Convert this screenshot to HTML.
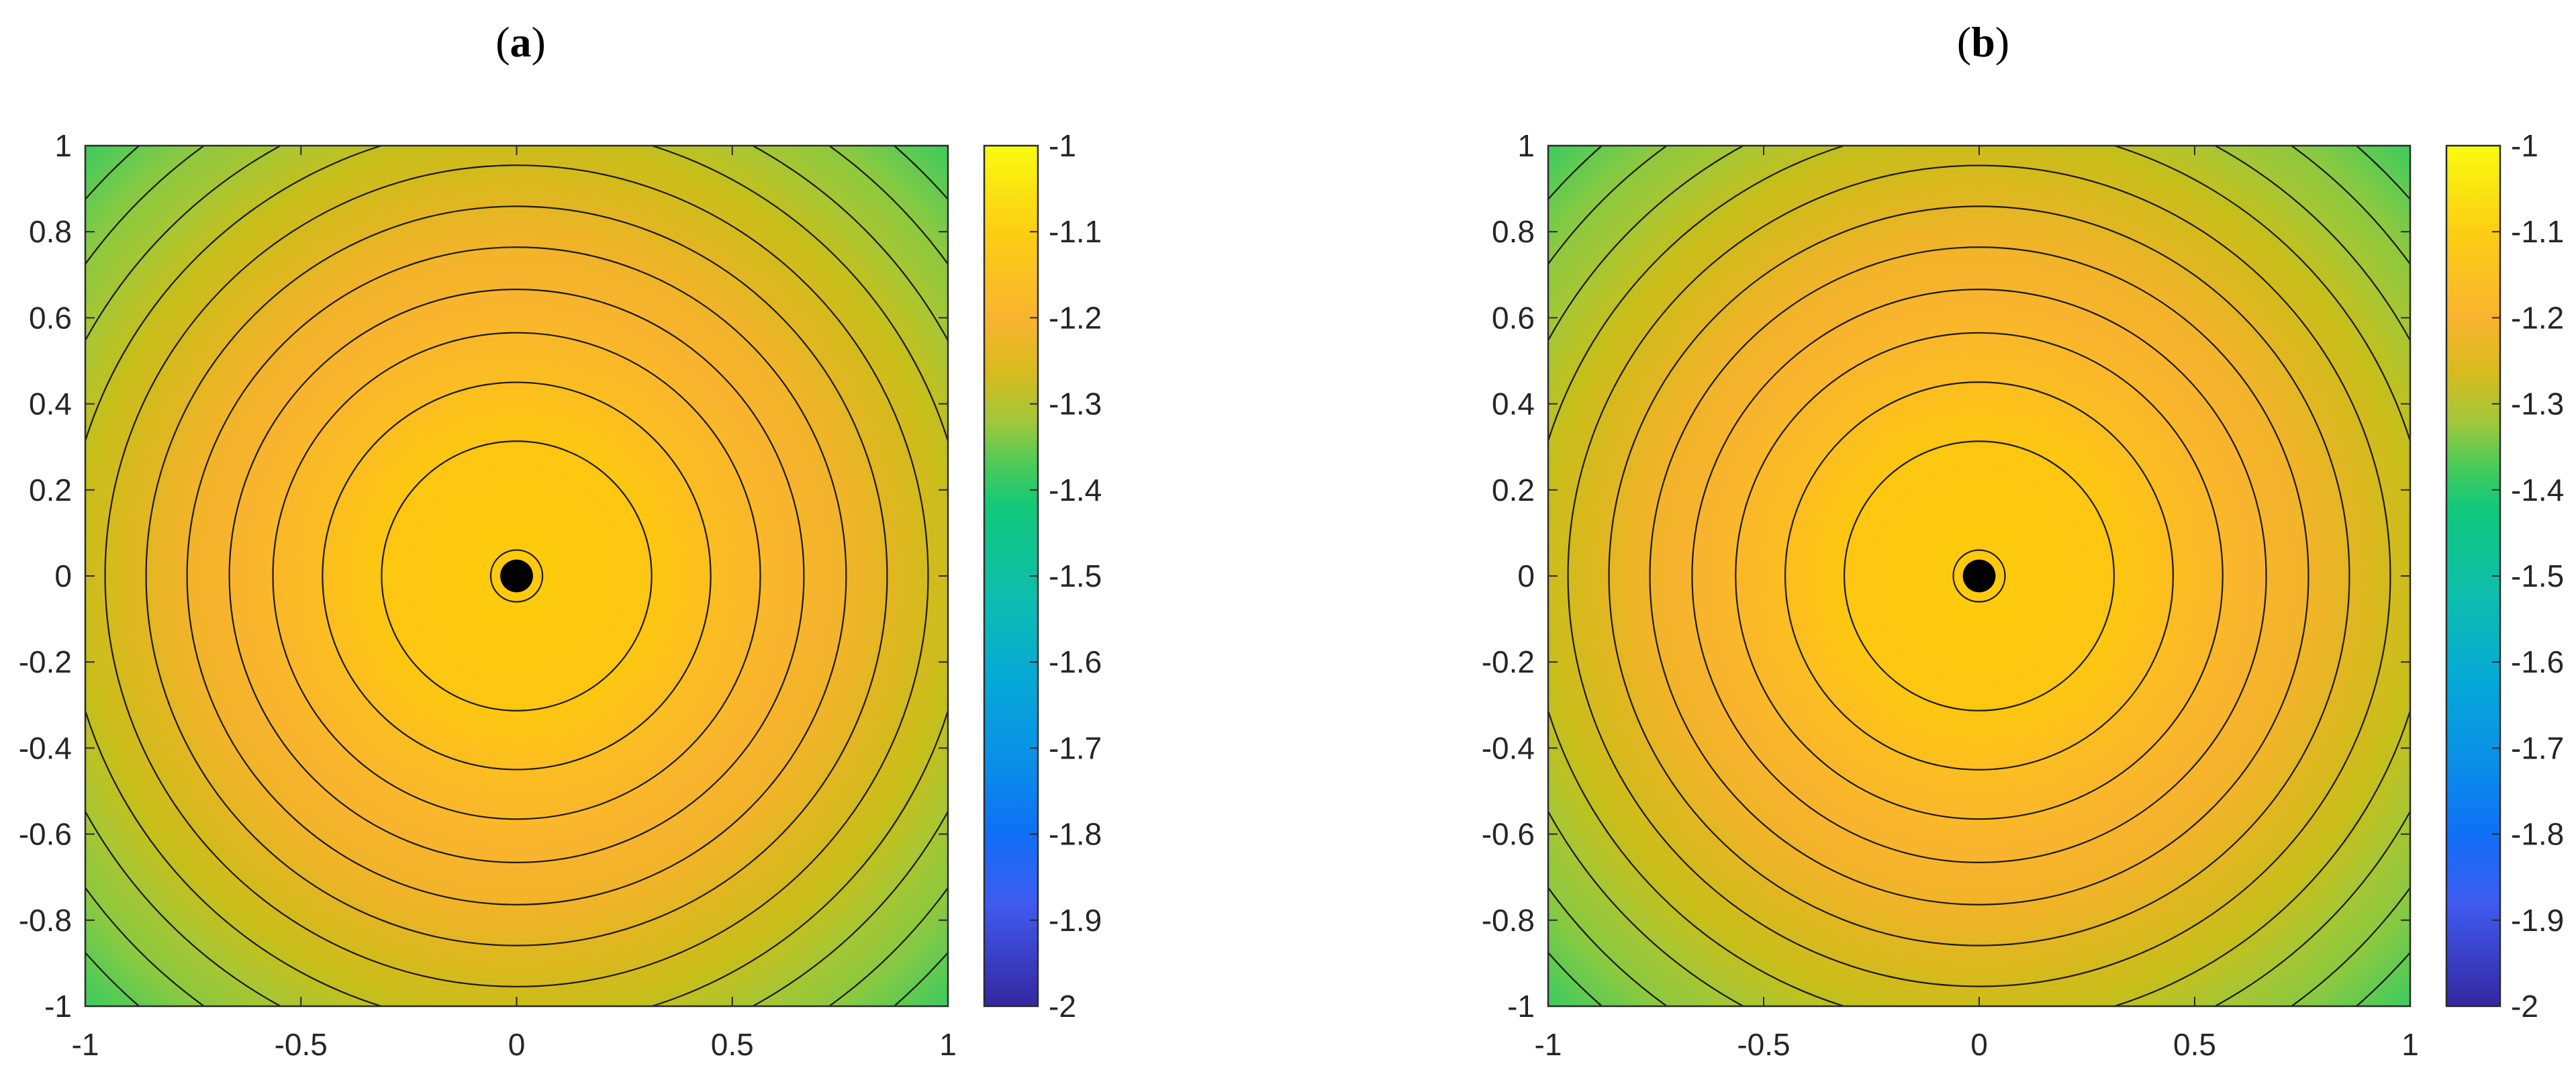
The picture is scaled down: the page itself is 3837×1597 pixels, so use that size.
<!DOCTYPE html>
<html><head><meta charset="utf-8"><style>
html,body{margin:0;padding:0;background:#fff;width:3837px;height:1597px;overflow:hidden;}
svg{display:block;}
text{font-family:"Liberation Sans",Arial,sans-serif;fill:#262626;}
.title{font-family:"Liberation Serif",serif;font-size:64px;fill:#000;}
</style></head><body>
<svg id="fig" width="3837" height="1597" viewBox="0 0 3837 1597" xmlns="http://www.w3.org/2000/svg">
<defs>
<radialGradient id="rg" gradientUnits="objectBoundingBox" cx="0.5" cy="0.5" r="0.7071">
<stop offset="0" stop-color="#fecb0c"/>
<stop offset="0.24" stop-color="#fdc613"/>
<stop offset="0.34" stop-color="#fbbc24"/>
<stop offset="0.45" stop-color="#f9b42e"/>
<stop offset="0.56" stop-color="#efb428"/>
<stop offset="0.64" stop-color="#dbb81e"/>
<stop offset="0.72" stop-color="#c8be1a"/>
<stop offset="0.80" stop-color="#a9c632"/>
<stop offset="0.88" stop-color="#8bc940"/>
<stop offset="0.95" stop-color="#5ccb53"/>
<stop offset="1" stop-color="#3dcb5e"/>
</radialGradient>
<linearGradient id="cbg" x1="0" y1="0" x2="0" y2="1">
<stop offset="0" stop-color="#f9fb0e"/>
<stop offset="0.1" stop-color="#fcce13"/>
<stop offset="0.2" stop-color="#f9b42f"/>
<stop offset="0.26" stop-color="#d9ba1e"/>
<stop offset="0.32" stop-color="#a3c739"/>
<stop offset="0.37" stop-color="#4ccb58"/>
<stop offset="0.42" stop-color="#12c87a"/>
<stop offset="0.52" stop-color="#0ebeac"/>
<stop offset="0.62" stop-color="#06a9d6"/>
<stop offset="0.72" stop-color="#0a8ee8"/>
<stop offset="0.8" stop-color="#0f6ff7"/>
<stop offset="0.88" stop-color="#3f5bf0"/>
<stop offset="1" stop-color="#3527a0"/>
</linearGradient>
</defs>
</svg>
<script>
const contourRadii = [0.313, 0.450, 0.565, 0.666, 0.764, 0.859, 0.954, 1.048, 1.140, 1.235, 1.329];
const innerRadius = 0.06;
const dotRadius = 0.038;
const xTicks = [-1, -0.5, 0, 0.5, 1];
const xTickLabels = ["-1", "-0.5", "0", "0.5", "1"];
const yTicks = [-1, -0.8, -0.6, -0.4, -0.2, 0, 0.2, 0.4, 0.6, 0.8, 1];
const yTickLabels = ["-1", "-0.8", "-0.6", "-0.4", "-0.2", "0", "0.2", "0.4", "0.6", "0.8", "1"];
const cbTicks = [-1, -1.1, -1.2, -1.3, -1.4, -1.5, -1.6, -1.7, -1.8, -1.9, -2];
const cbTickLabels = ["-1", "-1.1", "-1.2", "-1.3", "-1.4", "-1.5", "-1.6", "-1.7", "-1.8", "-1.9", "-2"];
const panelTitles = ["a", "b"];

const NS = "http://www.w3.org/2000/svg";
const svg = document.getElementById("fig");
function mk(tag, attrs, parent){
  const e = document.createElementNS(NS, tag);
  for (const k in attrs) e.setAttribute(k, attrs[k]);
  (parent||svg).appendChild(e);
  return e;
}
const panels = [{L:127,R:1412,T:217,B:1499,cbL:1466,cbR:1546},{L:2306,R:3590,T:217,B:1499,cbL:3644,cbR:3724}];
panels.forEach((p, i) => {
  const g = mk("g", {});
  
  
  const sx = v => p.L + (v + 1) / 2 * (p.R - p.L);
  const sy = v => p.B - (v + 1) / 2 * (p.B - p.T);
  const cx = sx(0), cy = sy(0);
  const ux = (p.R - p.L) / 2, uy = (p.B - p.T) / 2;
  const t = mk("text", {x: (p.L + p.R) / 2 + 6, y: 84, "text-anchor": "middle", class: "title"}, g);
  t.innerHTML = '(<tspan font-weight="bold">' + panelTitles[i] + '</tspan>)';
  
  
  const plot = mk("g", {}, g);
  
  
  const bg = mk("rect", {x: p.L, y: p.T, width: p.R - p.L, height: p.B - p.T, fill: "url(#rg)"}, plot);
  
  
  contourRadii.forEach(r => {
    let d;
    if (r <= 1) {
      d = `M ${sx(r)} ${cy} A ${r*ux} ${r*uy} 0 1 0 ${sx(-r)} ${cy} A ${r*ux} ${r*uy} 0 1 0 ${sx(r)} ${cy}`;
    } else {
      const s = Math.sqrt(r * r - 1);
      d = "";
      [[1,1],[-1,1],[-1,-1],[1,-1]].forEach(([a,b]) => {
        const sweep = a * b > 0 ? 0 : 1;
        d += `M ${sx(a)} ${sy(b*s)} A ${r*ux} ${r*uy} 0 0 ${sweep} ${sx(a*s)} ${sy(b)} `;
      });
    }
    const c = mk("path", {d: d, fill: "none", stroke: "#1a1a0a", "stroke-width": 2.2}, plot);
    
    
  });
  const ic = mk("circle", {cx: cx, cy: cy, r: innerRadius * ux, fill: "none", stroke: "#1a1a0a", "stroke-width": 2.2}, plot);
  
  
  const dot = mk("circle", {cx: cx, cy: cy, r: dotRadius * ux, fill: "#000"}, plot);
  
  
  const box = mk("rect", {x: p.L, y: p.T, width: p.R - p.L, height: p.B - p.T, fill: "none", stroke: "#2a2a2a", "stroke-width": 2.5}, g);
  
  
  xTicks.forEach((v, k) => {
    const x = sx(v);
    mk("line", {x1: x, y1: p.B, x2: x, y2: p.B - 14, stroke: "#2a2a2a", "stroke-width": 2}, g);
    mk("line", {x1: x, y1: p.T, x2: x, y2: p.T + 14, stroke: "#2a2a2a", "stroke-width": 2}, g);
    const tl = mk("text", {x: x, y: p.B + 73, "text-anchor": "middle", "font-size": 46}, g);
    tl.textContent = xTickLabels[k];
    
    
  });
  yTicks.forEach((v, k) => {
    const y = sy(v);
    mk("line", {x1: p.L, y1: y, x2: p.L + 14, y2: y, stroke: "#2a2a2a", "stroke-width": 2}, g);
    mk("line", {x1: p.R, y1: y, x2: p.R - 14, y2: y, stroke: "#2a2a2a", "stroke-width": 2}, g);
    const tl = mk("text", {x: p.L - 20, y: y + 16, "text-anchor": "end", "font-size": 46}, g);
    tl.textContent = yTickLabels[k];
    
    
  });
  const cb = mk("rect", {x: p.cbL, y: p.T, width: p.cbR - p.cbL, height: p.B - p.T, fill: "url(#cbg)", stroke: "#2a2a2a", "stroke-width": 2.5}, g);
  
  
  const cy2 = v => p.T + (-1 - v) / 1 * (p.B - p.T);
  cbTicks.forEach((v, k) => {
    const y = cy2(v);
    if (k > 0 && k < cbTicks.length - 1) mk("line", {x1: p.cbR, y1: y, x2: p.cbR - 12, y2: y, stroke: "#2a2a2a", "stroke-width": 2}, g);
    const tl = mk("text", {x: p.cbR + 16, y: y + 16, "font-size": 46}, g);
    tl.textContent = cbTickLabels[k];
    
    
  });
});
</script>
</body></html>
